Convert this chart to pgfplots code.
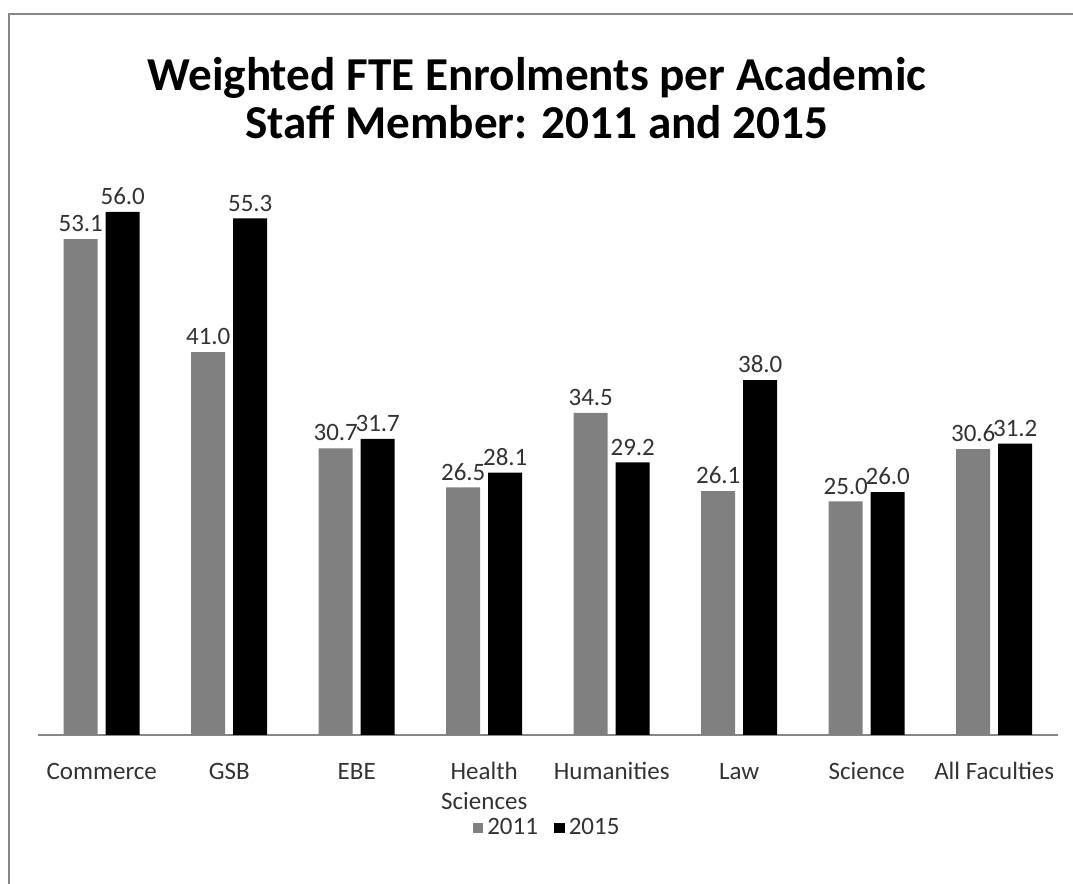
\documentclass[border=0pt]{standalone}
\usepackage{pgfplots}
\usepackage{pgfplotstable}
\pgfplotsset{compat=1.18}
\usepackage{fontspec}
\setmainfont{Carlito}
\definecolor{bargray}{RGB}{128,128,128}
\definecolor{framegray}{RGB}{134,134,134}
\definecolor{txt}{RGB}{51,51,51}

\pgfplotstableread{
x  y2011 y2015
0  53.1  56.0
1  41.0  55.3
2  30.7  31.7
3  26.5  28.1
4  34.5  29.2
5  26.1  38.0
6  25.0  26.0
7  30.6  31.2
}\fte

\begin{document}
\begin{tikzpicture}
% page size = reference at 0.5pt per pixel
\useasboundingbox (-19pt,-74.5pt) rectangle (517.5pt,367.5pt);
\draw[framegray, line width=1pt] (-14.5pt,-80pt) -- (-14.5pt,360.5pt) -- (530pt,360.5pt);
\begin{axis}[
    at={(0,0)}, anchor=south west,
    scale only axis,
    width=510pt, height=280.2pt,
    ybar, bar width=17pt, ybar=4pt,
    xmin=-0.5, xmax=7.5,
    ymin=0, ymax=60,
    axis y line=none,
    axis x line*=bottom,
    axis line style={framegray, line width=0.8pt, -},
    xtick=data,
    xticklabels={\strut Commerce, \strut GSB, \strut EBE, {\strut Health\\Sciences},
                 \strut Humanities, \strut Law, \strut Science, \strut All Faculties},
    xticklabel style={font=\fontsize{12.5}{15}\selectfont, text=txt, align=center,
                      anchor=north, yshift=-8pt},
    major tick length=0pt,
    /pgf/number format/assume math mode=true,
    /pgf/number format/.cd, fixed, fixed zerofill, precision=1, /pgfplots/.cd,
    nodes near coords,
    nodes near coords style={font=\fontsize{12.5}{15}\selectfont, text=txt},
    title={Weighted FTE Enrolments per Academic\\Staff Member: 2011 and 2015},
    title style={at={(0.489,1.115)}, anchor=center, align=center,
                 font=\fontsize{23.6}{24}\selectfont\bfseries, text=black},
    legend columns=2,
    legend style={at={(0.5,-0.166)}, anchor=center, draw=none,
                  font=\fontsize{12.5}{15}\selectfont, text=txt,
                  /tikz/every even column/.append style={column sep=6pt}},
    legend image code/.code={\fill[#1] (0pt,-2.7pt) rectangle (5.4pt,2.7pt);},
]
\addplot[fill=bargray, draw=none] table[x=x, y=y2011] {\fte};
\addplot[fill=black, draw=none] table[x=x, y=y2015] {\fte};
\legend{2011, 2015}
\end{axis}
\end{tikzpicture}
\end{document}
